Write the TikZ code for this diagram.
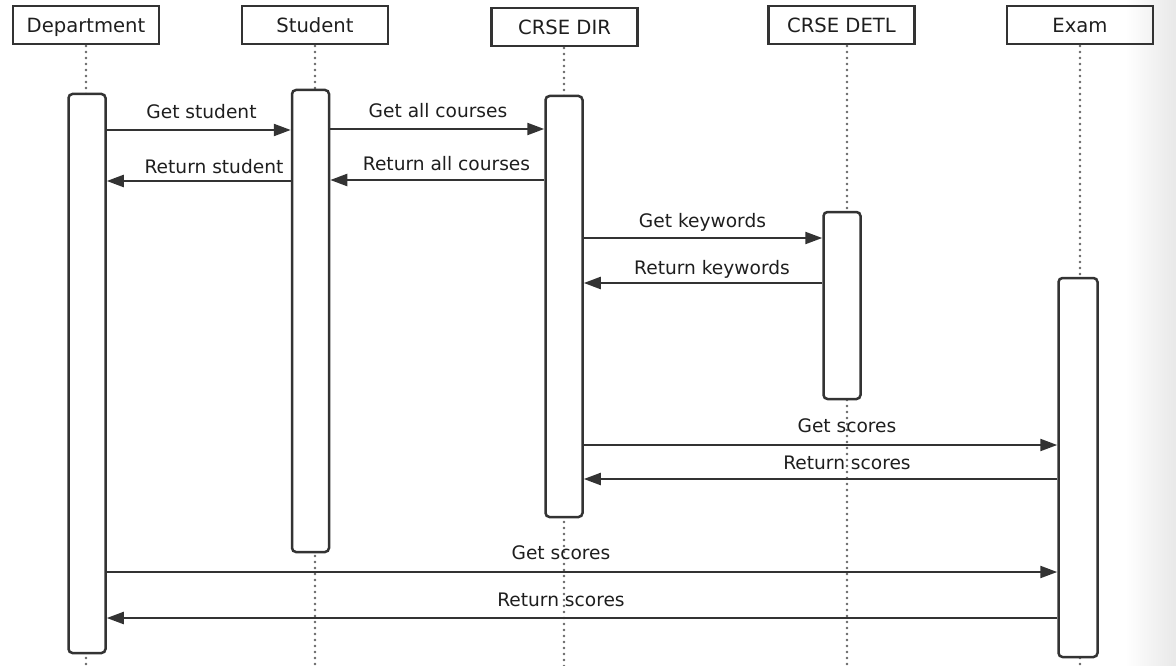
\documentclass[tikz,border=0pt]{standalone}
\usepackage{fontspec}
\setmainfont{DejaVu Sans}
\usetikzlibrary{arrows.meta}
\definecolor{ink}{HTML}{333333}
\definecolor{txt}{HTML}{1E1E1E}
\definecolor{life}{HTML}{666666}
\begin{document}
\begin{tikzpicture}[x=1pt,y=-1pt,
  head/.style={draw=ink,line width=2.5pt,minimum width=146pt,minimum height=38pt,inner sep=0pt,
    text height=18pt,text depth=2pt,font=\fontsize{19.6}{22}\selectfont,text=txt},
  actbox/.style={draw=ink,fill=white,line width=2.5pt,rounded corners=4pt,minimum width=37pt,inner sep=0pt},
  lifeline/.style={draw=life,line width=2.8pt,line cap=round,dash pattern=on 0pt off 6pt},
  msg/.style={draw=ink,line width=2.2pt,-{Triangle[length=17pt,width=12pt]}},
  msglabel/.style={anchor=base,inner sep=0pt,font=\fontsize{18.6}{22}\selectfont,text=txt}]
\useasboundingbox (0,0) rectangle (1176,666);
\shade[left color=white,right color=black!9] (1125,0) rectangle (1176,666);
% heads
\node[head] (dephead) at (86,25) {Department};
\node[head] (stuhead) at (315,25) {Student};
\node[head] (dirhead) at (564.5,27) {CRSE DIR};
\node[head] (detlhead) at (841.5,25) {CRSE DETL};
\node[head] (examhead) at (1080,25) {Exam};
% lifelines
\coordinate (depline) at (86,46);
\coordinate (stuline) at (315,46);
\coordinate (dirline) at (564,48);
\coordinate (detlline) at (847,46);
\coordinate (examline) at (1080,46);
\foreach \l in {depline,stuline,dirline,detlline,examline}
  \draw[lifeline] (\l) -- (\l |- 0,666);
% activations
\node[actbox,minimum height=559pt] (depact) at (87,373.5) {};
\node[actbox,minimum height=462pt] (stuact) at (310.5,321) {};
\node[actbox,minimum height=421pt] (diract) at (564,306.5) {};
\node[actbox,minimum height=187pt] (detlact) at (842,305.5) {};
\node[actbox,minimum height=379pt,minimum width=39pt] (examact) at (1078,467.5) {};
% messages
\draw[msg] (depact.east |- 0,130) -- (stuact.west |- 0,130);
\node[msglabel] (m1) at (201.5,119) {Get student};
\draw[msg] (stuact.west |- 0,181) -- (depact.east |- 0,181);
\node[msglabel] (m2) at (214,174) {Return student};
\draw[msg] (stuact.east |- 0,129) -- (diract.west |- 0,129);
\node[msglabel] (m3) at (438,118) {Get all courses};
\draw[msg] (diract.west |- 0,180) -- (stuact.east |- 0,180);
\node[msglabel] (m4) at (446.5,171) {Return all courses};
\draw[msg] (diract.east |- 0,238) -- (detlact.west |- 0,238);
\node[msglabel] (m5) at (702.5,227) {Get keywords};
\draw[msg] (detlact.west |- 0,283) -- (diract.east |- 0,283);
\node[msglabel] (m6) at (712,274) {Return keywords};
\draw[msg] (diract.east |- 0,445) -- (examact.west |- 0,445);
\node[msglabel] (m7) at (847,432) {Get scores};
\draw[msg] (examact.west |- 0,479) -- (diract.east |- 0,479);
\node[msglabel] (m8) at (847,469) {Return scores};
\draw[msg] (depact.east |- 0,572) -- (examact.west |- 0,572);
\node[msglabel] (m9) at (561,559) {Get scores};
\draw[msg] (examact.west |- 0,618) -- (depact.east |- 0,618);
\node[msglabel] (m10) at (561,606) {Return scores};
\end{tikzpicture}
\end{document}
